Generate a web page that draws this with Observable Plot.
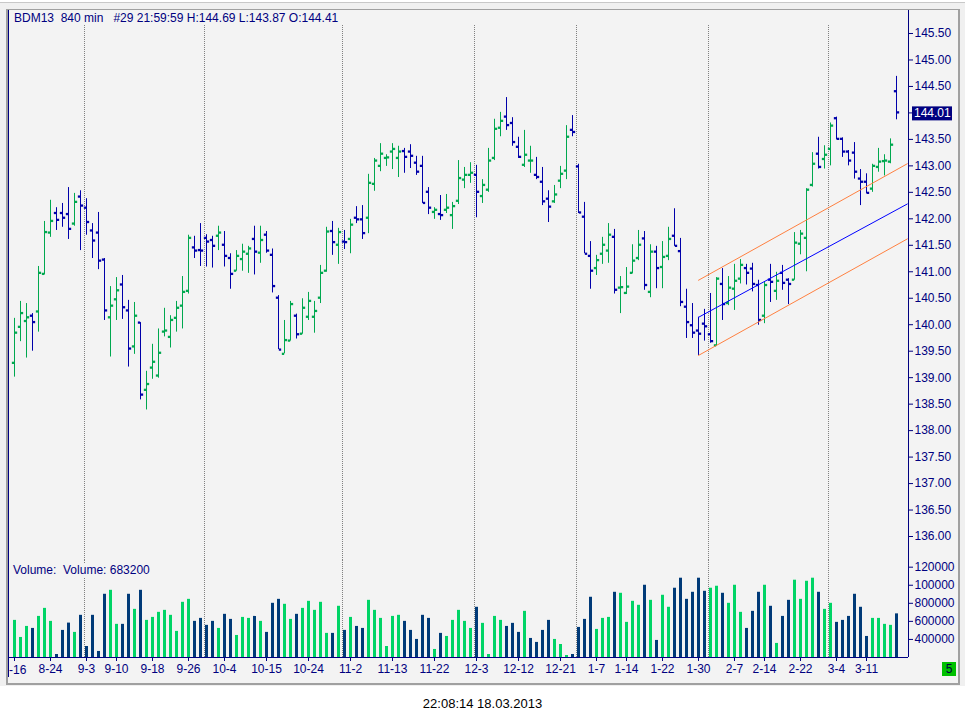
<!DOCTYPE html>
<html><head><meta charset="utf-8">
<script src="https://cdn.jsdelivr.net/npm/d3@7"></script>
<script src="https://cdn.jsdelivr.net/npm/@observablehq/plot@0.6"></script>
<style>
body{margin:0;background:#fff;font-family:"Liberation Sans",Arial,sans-serif;}
#wrap{position:relative;width:965px;height:720px;overflow:hidden;background:#fff;}
#win{position:absolute;left:0;top:2px;width:965px;height:684px;background:#f0f0f0;border-top:1px solid #c8c8c8;box-sizing:border-box;}
#panel{position:absolute;left:6px;top:9px;width:954px;height:676px;box-sizing:border-box;border:2px solid #a0a0a0;border-top-width:1px;background:#f3f3f3;}
.lbl{position:absolute;font-size:12px;line-height:14px;color:#000080;white-space:pre;}
#hdr{left:14px;top:10.5px;}
#vlab{left:13px;top:563px;background:#f3f3f3;padding-right:2px;}
#date{position:absolute;left:0;width:965px;top:695.5px;text-align:center;font-size:13px;line-height:15px;color:#000;}
#five{position:absolute;left:942px;top:662px;width:14px;height:14px;background:#00c000;color:#000040;font-size:12px;line-height:14px;text-align:center;}
#pricebox{position:absolute;left:0;top:0;width:965px;}
#volbox{position:absolute;left:0;top:560px;width:965px;}
</style></head>
<body><div id="wrap">
<div id="win"></div><div id="panel"></div>
<div id="pricebox"></div>
<div id="volbox"></div>
<div class="lbl" id="hdr">BDM13  840 min   #29 21:59:59 H:144.69 L:143.87 O:144.41</div>
<div class="lbl" id="vlab">Volume:  Volume: 683200</div>
<div id="five">5</div>
<div id="date">22:08:14 18.03.2013</div>
</div>
<script>
const open = [
139.28,139.96,140.07,140.17,140.25,140.96,141.74,142.11,142.11,142.09,
141.91,142.42,142.21,141.78,141.74,141.23,140.14,140.48,140.76,140.27,
139.59,140.04,138.77,139.19,139.04,139.87,139.77,140.13,140.36,140.64,
141.46,141.41,141.64,141.60,141.68,141.51,141.26,141.02,141.24,141.34,
141.62,141.36,141.70,141.32,140.51,139.45,139.70,140.17,139.83,140.15,
140.15,140.51,141.02,141.77,141.51,141.57,141.62,142.02,141.99,142.02,
142.66,143.00,143.15,143.27,143.15,143.28,143.27,143.06,143.00,142.51,
142.13,142.09,142.17,142.07,142.34,142.74,142.83,142.83,142.43,142.55,
143.15,143.72,143.93,143.81,143.36,143.02,143.10,142.83,142.70,142.38,
142.33,142.72,142.91,143.68,142.99,142.04,141.30,141.07,141.34,141.40,
141.66,140.70,140.60,140.98,141.26,141.63,140.62,141.38,141.09,141.30,
141.68,141.39,140.34,139.99,139.89,140.02,139.82,139.61,140.77,140.41,
140.68,140.87,141.07,141.06,140.75,140.17,140.85,140.64,140.98,140.85,
140.85,141.53,141.64,142.64,143.23,143.13,143.32,143.90,143.51,143.27,
143.25,142.76,142.70,142.57,142.98,143.09,143.08,144.41];
const high = [
140.12,140.44,140.40,140.21,141.10,141.95,142.35,142.21,142.29,142.59,
142.48,142.53,142.38,141.91,142.12,141.25,140.72,140.89,140.93,140.46,
140.42,140.04,139.12,139.63,139.92,140.31,140.17,140.44,140.91,141.69,
141.67,141.91,141.70,141.67,141.86,141.76,141.34,141.40,141.52,141.48,
141.86,141.86,141.76,141.43,140.55,140.08,140.44,140.20,140.49,140.61,
140.44,141.12,141.84,141.95,141.82,141.78,141.99,142.23,142.25,142.84,
143.14,143.42,143.21,143.42,143.37,143.33,143.40,143.18,143.18,142.59,
142.21,142.44,142.46,142.31,143.10,142.97,143.06,143.01,142.74,143.33,
143.88,144.01,144.29,143.91,143.54,143.67,143.37,143.16,142.97,142.53,
142.63,142.99,143.76,143.95,143.03,142.31,141.57,141.31,141.65,141.91,
141.80,140.91,141.08,141.51,141.78,141.76,141.51,141.48,141.57,141.84,
142.19,141.63,140.67,140.40,140.14,140.29,140.59,140.89,141.06,140.91,
141.14,141.23,141.14,141.16,140.84,140.81,141.14,140.99,141.12,140.87,
141.74,141.78,142.57,143.25,143.54,143.38,143.81,143.92,143.53,143.29,
143.44,142.93,142.85,143.03,143.33,143.21,143.51,144.69];
const low = [
139.01,139.68,139.37,139.50,139.86,140.94,141.65,141.78,141.84,141.61,
141.86,141.40,141.69,141.25,141.04,140.08,139.39,140.08,140.10,139.20,
139.44,138.58,138.39,138.97,138.99,139.77,139.56,139.86,139.92,140.58,
141.25,141.10,141.09,141.07,141.40,141.09,140.67,141.01,141.01,140.97,
140.94,141.16,141.35,140.60,139.53,139.45,139.69,139.73,139.82,140.08,
139.84,140.40,140.99,141.31,141.14,141.42,141.34,141.91,141.61,141.72,
142.52,142.89,142.99,142.93,142.78,142.86,142.95,142.82,142.29,142.08,
141.99,141.97,142.10,141.80,142.27,142.57,142.67,142.02,142.29,142.50,
143.10,143.55,143.67,143.37,143.14,142.97,142.86,142.74,142.25,141.93,
142.29,142.57,142.74,143.55,142.10,141.34,140.67,140.93,141.14,141.16,
140.58,140.21,140.57,140.96,141.21,140.65,140.51,140.68,140.68,141.21,
141.48,140.34,139.74,139.74,139.42,139.69,139.65,139.59,140.08,140.36,
140.27,140.77,140.75,140.62,139.99,140.02,140.42,140.46,140.65,140.38,
140.84,141.32,141.00,142.60,142.94,142.94,143.00,143.49,143.16,143.00,
142.75,142.25,142.47,142.50,142.88,142.81,143.04,143.87];
const close = [
139.85,140.22,140.14,140.05,140.98,141.75,141.96,141.98,142.02,141.81,
142.32,142.25,141.94,141.59,141.21,140.27,140.36,140.65,140.33,139.55,
140.17,138.68,138.88,139.30,139.47,139.89,140.09,140.32,140.62,141.64,
141.40,141.40,141.57,141.49,141.74,141.30,140.96,141.30,141.38,141.44,
141.38,141.60,141.40,140.73,139.53,139.71,140.39,139.82,140.32,140.45,
140.26,140.98,141.76,141.56,141.75,141.56,141.89,141.99,141.73,142.68,
143.10,143.23,143.16,143.32,143.27,143.17,143.19,142.89,142.30,142.21,
142.17,142.07,142.21,142.24,142.77,142.83,142.87,142.51,142.64,143.10,
143.70,143.85,143.77,143.45,143.17,143.21,143.10,142.79,142.33,142.23,
142.46,142.85,143.55,143.64,142.12,141.34,141.02,141.22,141.51,141.70,
140.66,140.71,140.72,141.21,141.51,140.75,141.38,141.07,141.28,141.62,
141.49,140.43,140.05,139.85,139.83,139.97,139.69,140.87,140.39,140.70,
140.83,141.13,140.98,140.77,140.09,140.75,140.81,140.83,140.79,140.77,
141.55,141.72,142.55,143.04,142.98,143.21,143.76,143.51,143.27,143.10,
142.89,142.70,142.49,143.00,143.08,143.10,143.40,144.01];
const volume = [
611000,422000,544000,522000,655000,744000,600000,233000,500000,581000,
478000,667000,322000,667000,267000,900000,944000,567000,567000,900000,
733000,944000,611000,644000,700000,722000,667000,489000,811000,844000,
600000,633000,556000,600000,522000,678000,622000,444000,644000,633000,
655000,600000,478000,800000,844000,789000,622000,678000,744000,822000,
722000,811000,467000,467000,767000,500000,644000,544000,522000,833000,
722000,633000,322000,655000,667000,600000,500000,400000,667000,633000,
289000,467000,433000,611000,722000,600000,522000,756000,578000,233000,
655000,611000,544000,578000,478000,711000,411000,367000,500000,611000,
400000,344000,222000,233000,533000,622000,867000,511000,633000,644000,
922000,911000,589000,822000,778000,1000000,833000,389000,889000,756000,
967000,1078000,844000,922000,1078000,933000,967000,989000,911000,800000,
1000000,700000,522000,711000,922000,1000000,767000,356000,655000,833000,
1056000,844000,1044000,1078000,922000,733000,800000,589000,611000,655000,
900000,756000,433000,633000,633000,567000,556000,683200];
const volumeColor = (
"GGGBGGGBBB"+"GBBBBBGGBB"+"GBGGGGGGGG"+"BBBBGBBGGG"+"BGBBBGGBGG"+
"GGGBGBGBBG"+"GGGGGBBBBB"+"GBGGGGGBGG"+"GGBBBGBBBB"+"GGGBBBBGGG"+
"BGGGGBGBGG"+"BBBBBBGGBG"+"GGBBBGBGBB"+"GGGGBGGBBB"+"BBBGGGGB");
const tickBars = [1,7,13,18,24,30,36,43,50,57,64,71,78,85,92,98,103,109,115,121,126,132,138,143];
const tickLabels = ["-16","8-24","9-3","9-10","9-18","9-26","10-4","10-15","10-24","11-2","11-13","11-22","12-3","12-12","12-21","1-7","1-14","1-22","1-30","2-7","2-14","2-22","3-4","3-11"];
const monthStarts = [13,33,56,78,95,117,137];
const channelBars = [115,149.8];
const channelMid = [140.14,142.28];
const channelUpper = [140.84,143.04];
const channelLower = [139.42,141.62];
const priceTicks = [136,136.5,137,137.5,138,138.5,139,139.5,140,140.5,141,141.5,142,142.5,143,143.5,144,144.5,145,145.5];
const volumeTicks = [400000,600000,800000,1000000,1200000];
const volumeTickLabels = ["400000","600000","800000","100000","120000"];
const lastPrice = 144.01;

const GREEN="#00a84f", BLUE="#0000aa", VGREEN="#00d466", VBLUE="#003a78", NAVY="#000080", ORANGE="#ff8040", GRID="#808080";
const FONT="Liberation Sans, Arial, sans-serif";
const XDOM=[0,150];
const VBASE=200000;

const bars = open.map((o,k)=>({i:k+1,o,h:high[k],l:low[k],c:close[k],up:close[k]>=o,v:volume[k],vup:volumeColor[k]==="G"}));
const chan = arr => channelBars.map((b,k)=>({x:b,y:arr[k]}));
const fmt2 = d3.format(".2f");
const lastRounded = Math.round(lastPrice*2)/2;

const price = Plot.plot({
  width:965, height:560, marginLeft:8, marginRight:57, marginTop:25, marginBottom:0,
  style:{background:"transparent", overflow:"visible", fontFamily:FONT, maxWidth:"none"},
  color:{type:"identity"},
  x:{domain:XDOM, axis:null},
  y:{domain:[135.547,145.651], axis:null, label:null},
  marks:[
    Plot.ruleX(monthStarts,{x:d=>d, dx:-2, stroke:GRID, strokeDasharray:"1,1"}),
    Plot.ruleX(bars,{x:"i", y1:"l", y2:"h", stroke:d=>d.up?GREEN:BLUE, strokeWidth:1}),
    Plot.dot(bars,{x:"i", y:"o", dx:-1.5, symbol:"square", r:1.3, fill:d=>d.up?GREEN:BLUE}),
    Plot.dot(bars,{x:"i", y:"c", dx:1.5, symbol:"square", r:1.3, fill:d=>d.up?GREEN:BLUE}),
    Plot.line(chan(channelUpper),{x:"x", y:"y", stroke:ORANGE, strokeWidth:1}),
    Plot.line(chan(channelLower),{x:"x", y:"y", stroke:ORANGE, strokeWidth:1}),
    Plot.line(chan(channelMid),{x:"x", y:"y", stroke:"#0000ff", strokeWidth:1}),
    Plot.axisY({ticks:priceTicks, anchor:"right", tickFormat:d=>d===lastRounded?"":fmt2(d), tickSize:4, tickPadding:2, color:NAVY, fontSize:12, fontFamily:FONT, label:null}),
    Plot.ruleX([XDOM[1]],{stroke:NAVY, insetTop:-15}),
    Plot.ruleX([XDOM[0]],{stroke:NAVY, insetTop:-15})
  ]
});
document.getElementById("pricebox").appendChild(price);
{
  const ys = price.scale("y").apply(lastPrice);
  const xs = price.scale("x").apply(XDOM[1]);
  const g = d3.select(price).append("g");
  g.append("rect").attr("x", xs+4).attr("y", ys-5.5).attr("width",40).attr("height",14).attr("fill",NAVY);
  g.append("text").attr("x", xs+6).attr("y", ys+1.5).attr("dy","0.32em").attr("fill","#fff")
    .attr("text-anchor","start").attr("font-size",12).attr("font-family",FONT).text(fmt2(lastPrice));
}

const vol = Plot.plot({
  width:965, height:125, marginLeft:8, marginRight:57, marginTop:0, marginBottom:28,
  style:{background:"transparent", overflow:"visible", fontFamily:FONT, maxWidth:"none"},
  color:{type:"identity"},
  x:{domain:XDOM, axis:null},
  y:{domain:[VBASE,1274000], axis:null, label:null},
  marks:[
    Plot.ruleX(monthStarts,{x:d=>d, dx:-2, stroke:GRID, strokeDasharray:"1,1"}),
    Plot.ruleX(bars,{x:"i", y1:()=>VBASE, y2:"v", stroke:d=>d.vup?VGREEN:VBLUE, strokeWidth:3}),
    Plot.axisY({ticks:volumeTicks, anchor:"right", tickFormat:d=>volumeTickLabels[volumeTicks.indexOf(d)], tickSize:4, tickPadding:2, color:NAVY, fontSize:12, fontFamily:FONT, label:null}),
    Plot.axisX({ticks:tickBars, anchor:"bottom", tickFormat:d=>d===tickBars[0]?"":tickLabels[tickBars.indexOf(d)], tickSize:4, tickPadding:3, color:NAVY, fontSize:12, fontFamily:FONT, label:null}),
    Plot.text([{i:tickBars[0], t:tickLabels[0]}],{x:"i", y:()=>VBASE, text:"t", dx:-5.5, dy:12.5, textAnchor:"start", fill:NAVY, fontSize:12, fontFamily:FONT}),
    Plot.ruleX([XDOM[1]],{stroke:NAVY}),
    Plot.ruleX([XDOM[0]],{stroke:NAVY, insetBottom:-20}),
    Plot.ruleY([VBASE],{stroke:NAVY})
  ]
});
document.getElementById("volbox").appendChild(vol);
</script>
</body></html>
